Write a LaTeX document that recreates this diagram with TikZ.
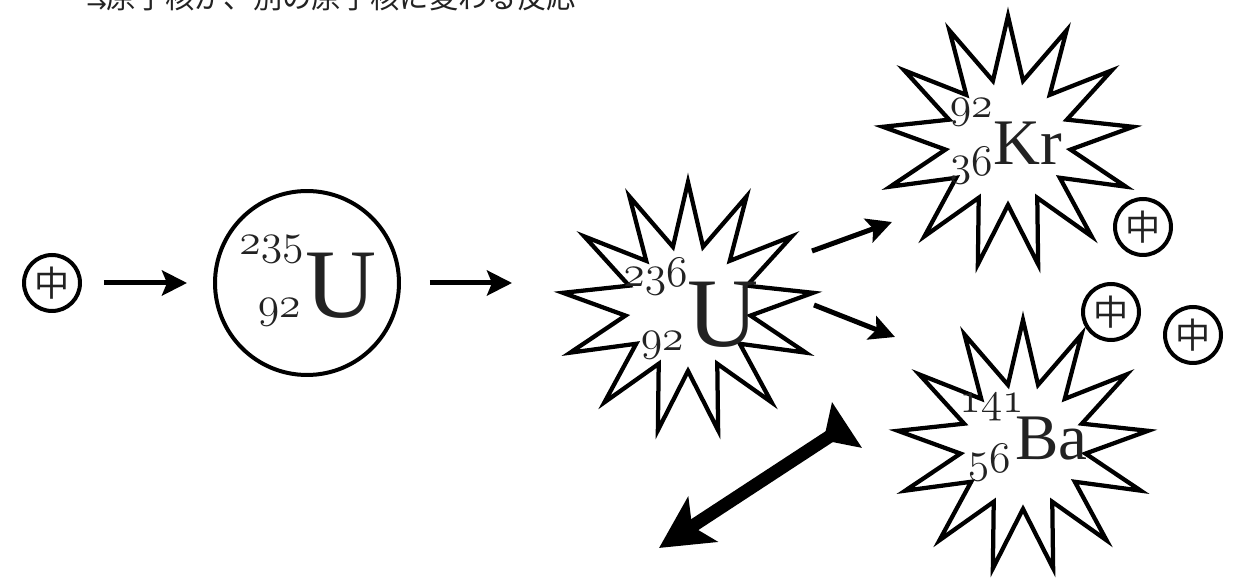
\documentclass[tikz,border=0pt]{standalone}
\usepackage{fontspec}
\newfontfamily\jpfont{Noto Sans CJK JP}
\newfontfamily\symfont{Liberation Serif}
\newfontfamily\arrowfont{DejaVu Sans}
\usepackage{xcolor}
\definecolor{inkgray}{HTML}{222222}
\usetikzlibrary{shapes.geometric, arrows.meta, calc}

\newcommand{\osn}[1]{$\mathnormal{#1}$}

\tikzset{
  neutron/.style={circle, draw, line width=0.08cm, minimum size=1.12cm, inner sep=0pt,
                  text=inkgray, font=\jpfont\fontsize{20}{20}\selectfont},
  nucleus/.style={circle, draw, line width=0.08cm, minimum size=3.68cm, inner sep=0pt},
  burst/.style={star, star points=13, star point ratio=2, draw, line width=0.085cm,
                minimum size=5.04cm, inner sep=0pt},
  bigsym/.style={inner sep=0pt, anchor=base west, text=inkgray, font=\symfont\fontsize{56}{56}\selectfont},
  smallsym/.style={inner sep=0pt, anchor=base west, text=inkgray, font=\symfont\fontsize{37}{37}\selectfont},
  bignum/.style={inner sep=0pt, anchor=base east, text=inkgray, font=\fontsize{28}{28}\selectfont},
  smallnum/.style={inner sep=0pt, anchor=base east, text=inkgray, font=\fontsize{23}{23}\selectfont},
  flow/.style={line width=0.1cm, -{Stealth[length=0.5cm, width=0.5cm, inset=0.1cm]}},
  energy/.style={line width=0.26cm,
                 {Triangle[reversed, length=0.56cm, width=1.06cm]}-{Stealth[length=1.04cm, width=1.06cm, inset=0.25cm]}}
}

\begin{document}
\begin{tikzpicture}[x=0.02cm, y=-0.02cm]
  \useasboundingbox (0,0) rectangle (1242,580);
  % caption, cut off at the top edge
  \node[anchor=base west, inner sep=0pt, text=inkgray, font=\jpfont\fontsize{16.7}{17}\selectfont]
    (caption) at (86,9) {\raisebox{-2pt}{\arrowfont\fontsize{14}{14}\selectfont →}原子核が、別の原子核に変わる反応};

  % incoming neutron and uranium-235
  \node[neutron] (n0) at (52,283) {中};
  \node[nucleus] (u235) at (307,283) {};
  \node[bigsym] (u235sym) at (305,318) {U};
  \node[bignum] (u235a) at (304,255) {\osn{235}};
  \node[bignum] (u235z) at (301,318) {\osn{92}};

  % compound nucleus
  \node[burst] (u236) at (688,308) {};
  \node[bigsym] (u236sym) at (687,347) {U};
  \node[bignum] (u236a) at (688,287) {\osn{236}};
  \node[bignum] (u236z) at (684,351) {\osn{92}};

  % fragments
  \node[burst] (kr) at (1008,142) {};
  \node[smallsym] (krsym) at (993,165) {Kr};
  \node[smallnum] (kra) at (993,118) {\osn{92}};
  \node[smallnum] (krz) at (993,176) {\osn{36}};

  \node[burst] (ba) at (1023,446) {};
  \node[smallsym] (basym) at (1015,460) {Ba};
  \node[smallnum] (baa) at (1024,413) {\osn{141}};
  \node[smallnum] (baz) at (1011,473) {\osn{56}};

  % released neutrons
  \foreach \name/\x/\y in {n1/1143/227, n2/1111/312, n3/1193/335}
    \node[neutron] (\name) at (\x,\y) {中};

  % reaction arrows
  \draw[flow, shorten <=1.04cm, shorten >=2.4cm] (n0.center) -- (u235.center);
  \draw[flow, shorten <=2.46cm, shorten >=3.52cm] (u235.center) -- (u235 -| u236);
  \draw[flow] ([shift={(124,-57)}]u236.center) -- ([shift={(-116,80)}]kr.center);
  \draw[flow] ([shift={(126,-3)}]u236.center) -- ([shift={(-128,-109)}]ba.center);

  % energy
  \coordinate (e1) at (847,425);
  \coordinate (e2) at (659,548);
  \draw[energy] (e1) -- (e2);
\end{tikzpicture}
\end{document}
